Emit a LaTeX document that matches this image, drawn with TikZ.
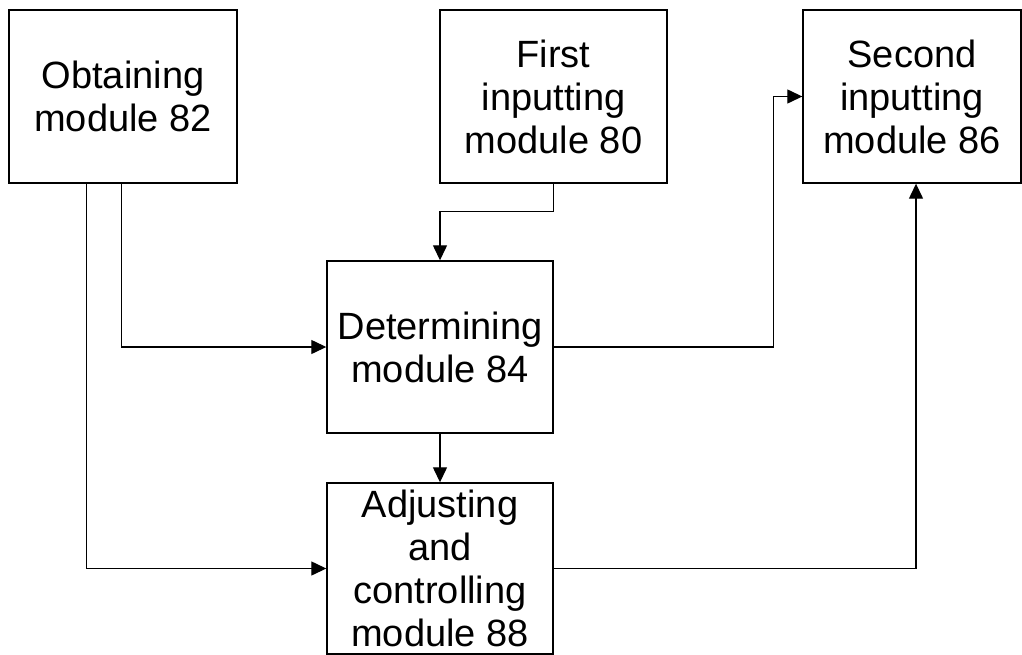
\documentclass[tikz,border=0pt]{standalone}
\usepackage{fontspec}
\setmainfont{Liberation Sans}
\usetikzlibrary{arrows.meta}
\begin{document}
\begin{tikzpicture}[x=1pt,y=-1pt,
  box/.style={draw,line width=1.4pt,inner sep=0pt,align=center,
    font=\fontsize{38}{43}\selectfont},
  conn/.style={line width=1.3pt,-{Triangle[length=15pt,width=14pt]}}]
\useasboundingbox (0,0) rectangle (1022,655);
\node[box,minimum width=228pt,minimum height=173pt] (obt) at (123,96.5) {Obtaining\\module 82};
\node[box,minimum width=227pt,minimum height=173pt] (fir) at (553.5,96.5) {First\\inputting\\module 80};
\node[box,minimum width=218pt,minimum height=173pt] (sec) at (912,96.5) {Second\\inputting\\module 86};
\node[box,minimum width=226pt,minimum height=172pt] (det) at (440,347) {Determining\\module 84};
\node[box,minimum width=226pt,minimum height=171pt] (adj) at (440,568.5) {Adjusting\\and\\controlling\\module 88};
\draw[conn] ([xshift=113pt]obt.south west) |- (det.west);
\draw[conn] ([xshift=78pt]obt.south west) |- (adj.west);
\draw[conn] (fir.south) -- ++(0,28) -| (det.north);
\draw[conn] (det.south) -- (adj.north);
\draw[conn] (det.east) -| ([xshift=-29pt]sec.west) -- (sec.west);
\draw[conn] (adj.east) -| ([xshift=4pt]sec.south);
\end{tikzpicture}
\end{document}
